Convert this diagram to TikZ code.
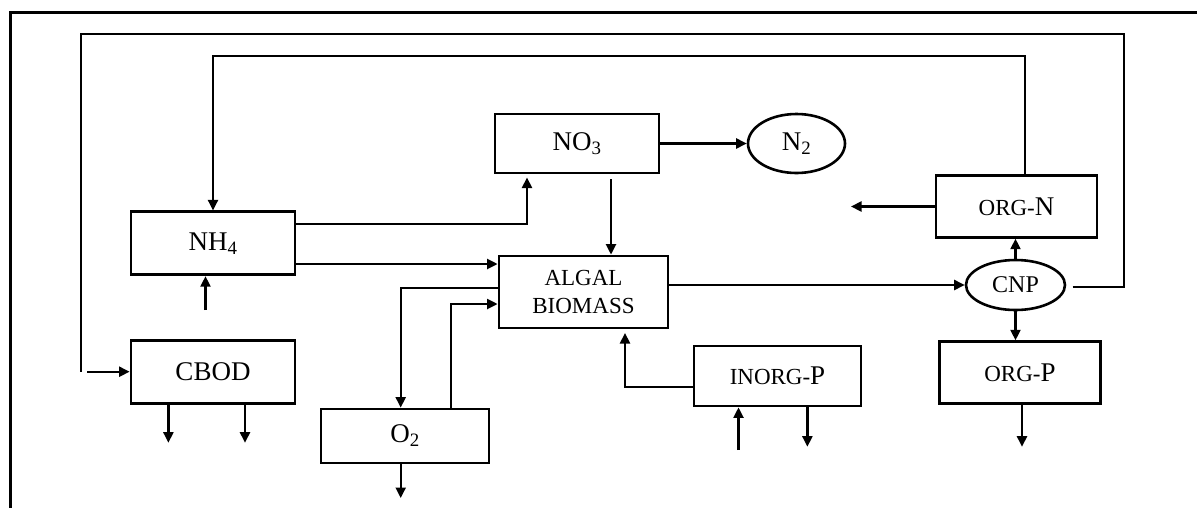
\documentclass[tikz,border=0pt]{standalone}
\usepackage{fontspec}
\setmainfont{Liberation Serif}
\usetikzlibrary{arrows.meta,shapes.geometric}
\newcommand{\smtxt}{\fontsize{23}{28}\selectfont}
\begin{document}
\begin{tikzpicture}[x=1pt,y=-1pt,
  box/.style={draw,line width=2.8pt,inner sep=0pt,font=\fontsize{27}{32}\selectfont},
  oval/.style={draw,ellipse,line width=2.6pt,inner sep=0pt},
  conn/.style={line width=2.2pt},
  arr/.style={conn,-{Triangle[length=10.5pt,width=10pt]}},
  framel/.style={line width=2.6pt}]
\useasboundingbox (0,0) rectangle (1197,507);
% outer frame
\draw[framel] (10.3,520) -- (10.3,12.7) -- (1210,12.7);
% nodes
\node[box,minimum width=164pt,minimum height=59pt] (no3) at (577,143.5) {NO\textsubscript{3}};
\node[oval,minimum width=97pt,minimum height=59pt,font=\fontsize{27}{32}\selectfont] (n2) at (796.5,143.5) {N\textsubscript{2}};
\node[box,minimum width=164pt,minimum height=63pt] (nh4) at (213,243.3) {NH\textsubscript{4}};
\node[box,minimum width=164pt,minimum height=63pt] (cbod) at (213,371.7) {CBOD};
\node[box,minimum width=168pt,minimum height=54pt] (o2) at (405,436) {O\textsubscript{2}};
\node[box,minimum width=169pt,minimum height=72pt,align=center,font=\smtxt] (alg) at (583.5,292) {ALGAL\\BIOMASS};
\node[box,minimum width=167pt,minimum height=60pt] (inorgp) at (777.5,376) {{\smtxt INORG-}P};
\node[box,minimum width=161pt,minimum height=61.6pt] (orgn) at (1016.5,206.5) {{\smtxt ORG-}N};
\node[box,minimum width=161.5pt,minimum height=61.6pt] (orgp) at (1020,372.5) {{\smtxt ORG-}P};
\node[oval,minimum width=99pt,minimum height=50pt,font=\fontsize{24}{28}\selectfont] (cnp) at (1015.5,285) {CNP};
% helper coordinates
\coordinate (cnpR) at (1072.6,287);
\coordinate (r1) at (1124,287);
\coordinate (r2) at (1124,34.3);
\coordinate (l1) at (81,34.3);
\coordinate (l2) at (81,371.7);
\coordinate (l3) at (87,371.7);
\coordinate (c1) at (1025,55.7);
\coordinate (c2) at (213,55.7);
\coordinate (c3) at (527,224.3);
\coordinate (no3in) at (527,177.5);
\coordinate (c4) at (300,264);
\coordinate (nh4in) at (205.5,310);
\coordinate (c5) at (611,179);
\coordinate (c6) at (400.7,288.3);
\coordinate (c7) at (451,304);
\coordinate (o2out) at (400.7,498);
\coordinate (cb1) at (168.4,442.7);
\coordinate (cb2) at (245,442.7);
\coordinate (orgnout) at (851,206.5);
\coordinate (orgpout) at (1022,446.7);
\coordinate (c10) at (625,386.7);
\coordinate (algin) at (625,333);
\coordinate (ipin) at (738.5,450);
\coordinate (ipout) at (807.4,446.7);
% outer loop: CNP -> CBOD
\draw[conn] (cnpR) -- (r1) -- (r2) -- (l1) -- (l2);
\draw[arr] (l3) -- (cbod.west);
% loop: ORG-N -> NH4
\draw[arr] (orgn.north -| c1) -- (c1) -- (c2) -- (nh4.north);
% NH4 -> NO3
\draw[arr] (nh4.east |- c3) -- (c3) -- (no3in);
% NH4 -> ALGAL
\draw[arr] (nh4.east |- c4) -- (alg.west |- c4);
% input to NH4
\draw[arr] (nh4in) -- (nh4in |- nh4.south);
% NO3 -> N2
\draw[arr] (no3.east) -- (n2.west);
% NO3 -> ALGAL
\draw[arr] (c5) -- (c5 |- alg.north);
% ALGAL -> O2
\draw[arr] (alg.west |- c6) -- (c6) -- (c6 |- o2.north);
% O2 -> ALGAL
\draw[arr] (o2.north -| c7) -- (c7) -- (c7 -| alg.west);
% O2 out
\draw[arr] (o2.south -| o2out) -- (o2out);
% CBOD outs
\draw[arr] (cbod.south -| cb1) -- (cb1);
\draw[arr] (cbod.south -| cb2) -- (cb2);
% ALGAL -> CNP
\draw[arr] (alg.east |- cnp.west) -- (cnp.west);
% CNP -> ORG-N, ORG-P
\draw[arr] (cnp.north) -- (cnp.north |- orgn.south);
\draw[arr] (cnp.south) -- (cnp.south |- orgp.north);
% ORG-P out
\draw[arr] (orgp.south -| orgpout) -- (orgpout);
% ORG-N out
\draw[arr] (orgn.west) -- (orgnout);
% INORG-P -> ALGAL
\draw[arr] (inorgp.west |- c10) -- (c10) -- (algin);
% INORG-P in/out
\draw[arr] (ipin) -- (ipin |- inorgp.south);
\draw[arr] (inorgp.south -| ipout) -- (ipout);
\end{tikzpicture}
\end{document}
